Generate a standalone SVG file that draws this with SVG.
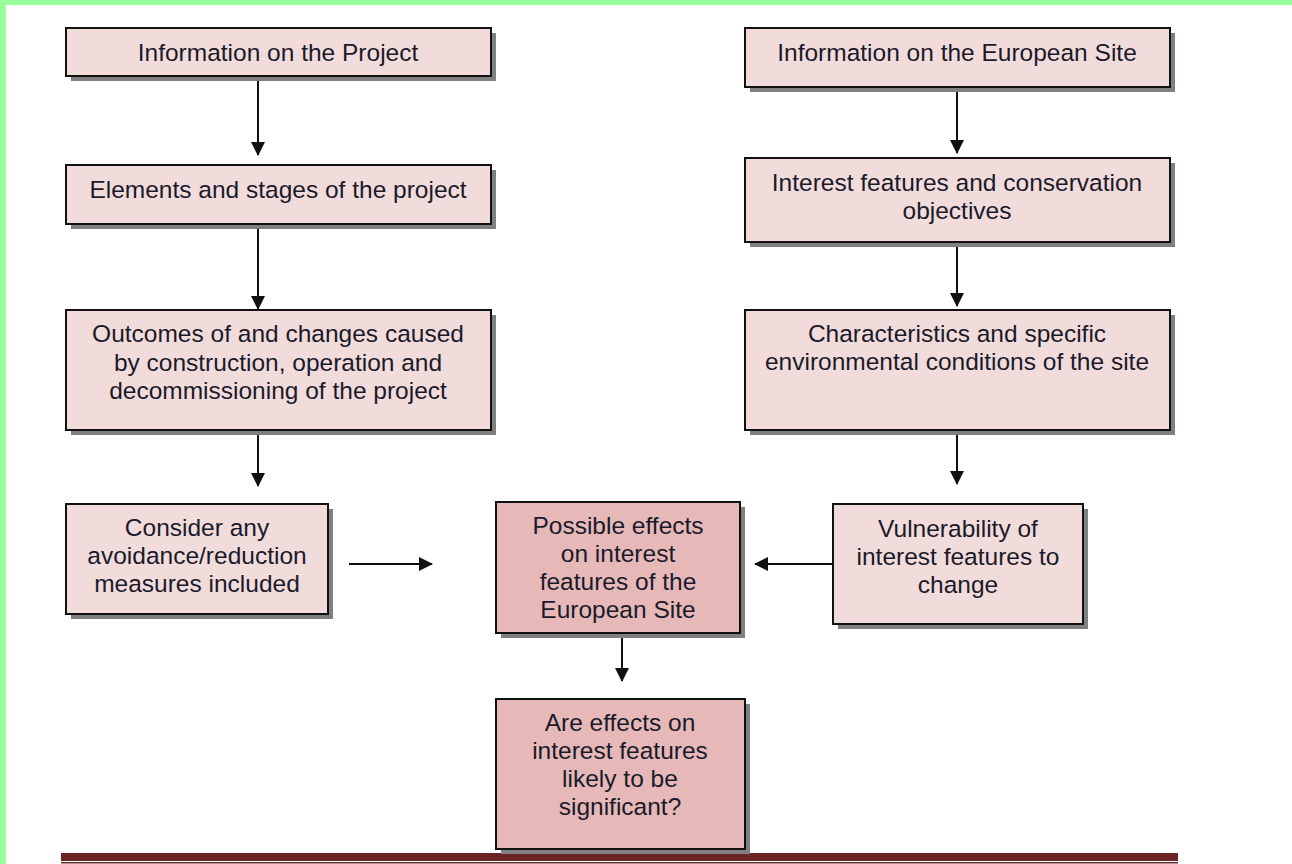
<svg xmlns="http://www.w3.org/2000/svg" width="1292" height="864" viewBox="0 0 1292 864">
<style>
.box{stroke:#111;stroke-width:2}
.light{fill:#F2DCDB}
.dark{fill:#E6B9B8}
.shadow{fill:#808080}
text{font-family:"Liberation Sans",Arial,sans-serif;font-size:24.5px;fill:#1a1a2a;text-anchor:middle}
.conn{stroke:#111;stroke-width:2;fill:none}
</style>
<defs>
<marker id="ahv" viewBox="0 0 14 14" markerWidth="14" markerHeight="14" refX="13" refY="7" orient="auto" markerUnits="userSpaceOnUse">
<path d="M0,0 L14,7 L0,14 Z" fill="#111"/>
</marker>
</defs>
<rect x="0" y="0" width="1292" height="864" fill="#fff"/>
<rect x="0" y="0" width="1292" height="5" fill="#99FF99"/>
<rect x="0" y="0" width="6" height="864" fill="#99FF99"/>
<rect x="61" y="853" width="1117" height="8" fill="#6B2426"/>
<rect x="61" y="862" width="1117" height="1.5" fill="#6B2426"/>

<g id="connectors">
<line class="conn" x1="258" y1="77" x2="258" y2="155" marker-end="url(#ahv)"/>
<line class="conn" x1="258" y1="225" x2="258" y2="309" marker-end="url(#ahv)"/>
<line class="conn" x1="258" y1="431" x2="258" y2="486" marker-end="url(#ahv)"/>
<line class="conn" x1="957" y1="88" x2="957" y2="153" marker-end="url(#ahv)"/>
<line class="conn" x1="957" y1="243" x2="957" y2="306" marker-end="url(#ahv)"/>
<line class="conn" x1="957" y1="431" x2="957" y2="484" marker-end="url(#ahv)"/>
<line class="conn" x1="349" y1="564" x2="432" y2="564" marker-end="url(#ahv)"/>
<line class="conn" x1="833" y1="564" x2="755" y2="564" marker-end="url(#ahv)"/>
<line class="conn" x1="622" y1="634" x2="622" y2="681" marker-end="url(#ahv)"/>
</g>

<g id="n1">
<rect class="shadow" x="71" y="33" width="425" height="48"/>
<rect class="box light" x="66" y="28" width="425" height="48"/>
<text x="278" y="61">Information on the Project</text>
</g>
<g id="n2">
<rect class="shadow" x="71" y="170" width="425" height="59"/>
<rect class="box light" x="66" y="165" width="425" height="59"/>
<text x="278" y="198">Elements and stages of the project</text>
</g>
<g id="n3">
<rect class="shadow" x="71" y="315" width="425" height="120"/>
<rect class="box light" x="66" y="310" width="425" height="120"/>
<text x="278" y="342">Outcomes of and changes caused</text>
<text x="278" y="371">by construction, operation and</text>
<text x="278" y="399">decommissioning of the project</text>
</g>
<g id="n4">
<rect class="shadow" x="71" y="509" width="262" height="110"/>
<rect class="box light" x="66" y="504" width="262" height="110"/>
<text x="197" y="536">Consider any</text>
<text x="197" y="564">avoidance/reduction</text>
<text x="197" y="592">measures included</text>
</g>
<g id="n5">
<rect class="shadow" x="750" y="33" width="425" height="59"/>
<rect class="box light" x="745" y="28" width="425" height="59"/>
<text x="957" y="61">Information on the European Site</text>
</g>
<g id="n6">
<rect class="shadow" x="750" y="163" width="425" height="84"/>
<rect class="box light" x="745" y="158" width="425" height="84"/>
<text x="957" y="191">Interest features and conservation</text>
<text x="957" y="219">objectives</text>
</g>
<g id="n7">
<rect class="shadow" x="750" y="315" width="425" height="120"/>
<rect class="box light" x="745" y="310" width="425" height="120"/>
<text x="957" y="342">Characteristics and specific</text>
<text x="957" y="370">environmental conditions of the site</text>
</g>
<g id="n8">
<rect class="shadow" x="838" y="509" width="250" height="120"/>
<rect class="box light" x="833" y="504" width="250" height="120"/>
<text x="958" y="537">Vulnerability of</text>
<text x="958" y="565">interest features to</text>
<text x="958" y="593">change</text>
</g>
<g id="n9">
<rect class="shadow" x="501" y="507" width="244" height="131"/>
<rect class="box dark" x="496" y="502" width="244" height="131"/>
<text x="618" y="534">Possible effects</text>
<text x="618" y="562">on interest</text>
<text x="618" y="590">features of the</text>
<text x="618" y="618">European Site</text>
</g>
<g id="n10">
<rect class="shadow" x="501" y="704" width="249" height="150"/>
<rect class="box dark" x="496" y="699" width="249" height="150"/>
<text x="620" y="731">Are effects on</text>
<text x="620" y="759">interest features</text>
<text x="620" y="787">likely to be</text>
<text x="620" y="815">significant?</text>
</g>
</svg>
